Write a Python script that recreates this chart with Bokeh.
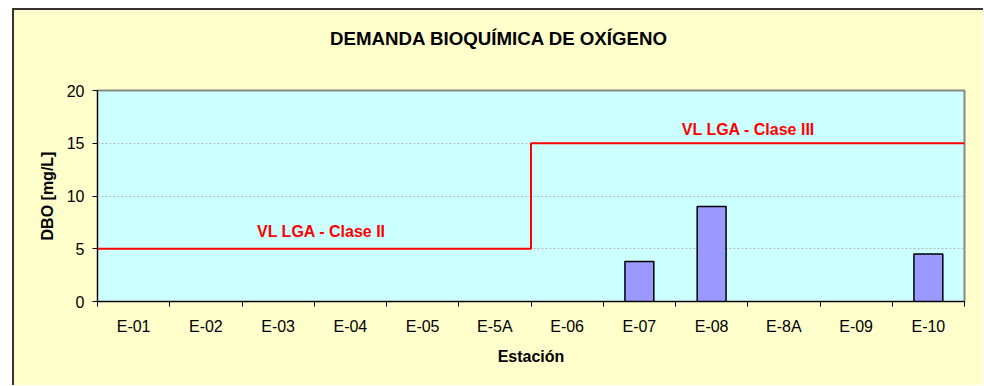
import numpy as np
from bokeh.plotting import figure
from bokeh.layouts import column
from bokeh.models import FixedTicker, Label, Range1d, ColumnDataSource, CustomJSTickFormatter, Div
from bokeh.embed import file_html
from bokeh.resources import INLINE

# ---- data ----
stations = ["E-01", "E-02", "E-03", "E-04", "E-05", "E-5A",
            "E-06", "E-07", "E-08", "E-8A", "E-09", "E-10"]
dbo = [np.nan, np.nan, np.nan, np.nan, np.nan, np.nan,
       np.nan, 3.8, 9.0, np.nan, np.nan, 4.5]
limits = [5, 5, 5, 5, 5, 5, 15, 15, 15, 15, 15, 15]
y_ticks = [0, 5, 10, 15, 20]
title_text = "DEMANDA BIOQUÍMICA DE OXÍGENO"
limit_labels = ["VL LGA - Clase II", "VL LGA - Clase III"]
x_label = "Estación"
y_label = "DBO [mg/L]"

FONT = "Liberation Sans"
BG = "#FFFFCC"

n = len(stations)
centers = np.arange(1, n + 1)
edges = np.arange(n + 1) + 0.5

title_div = Div(
    text=('<div style="display:block; width:969px; padding-top:18px; text-align:center; '
          'font-family:\'Liberation Sans\'; font-size:18.7px; font-weight:bold; color:black; '
          'line-height:21.5px;">' + title_text + '</div>'),
    width=969, height=50, margin=0)

p = figure(width=969, height=325, output_backend="svg", toolbar_location=None,
           x_range=Range1d(0.5, n + 0.5), y_range=Range1d(0, 20),
           min_border_left=83, min_border_right=19, min_border_top=30, min_border_bottom=84,
           background_fill_color="#CCFFFF", border_fill_color=BG,
           outline_line_color="#888888", outline_line_width=2)
p.margin = 0

# grid
p.xgrid.grid_line_color = None
p.ygrid.ticker = FixedTicker(ticks=y_ticks[1:-1])
p.ygrid.grid_line_color = "#b8b8b8"
p.ygrid.grid_line_dash = "2 2"
p.ygrid.grid_line_width = 1

# bars
src = ColumnDataSource(dict(x=centers, top=dbo))
p.vbar(x="x", top="top", width=0.4, source=src, fill_color="#9999FF",
       line_color="black", line_width=1.5)

# limit step line
p.step(x=edges, y=limits + [limits[-1]], mode="after", line_color="#FF0000", line_width=2)

# axes
xa = p.xaxis[0]
xa.ticker = FixedTicker(ticks=list(centers), minor_ticks=list(edges))
xa.formatter = CustomJSTickFormatter(args=dict(labels=stations),
                                     code="return labels[Math.round(tick) - 1] || ''")
xa.major_tick_line_color = None
xa.minor_tick_line_color = "black"
xa.minor_tick_out = 5
xa.minor_tick_in = 0
xa.axis_line_color = "black"
xa.major_label_text_font = FONT
xa.major_label_text_font_size = "16px"
xa.major_label_text_color = "black"
xa.major_label_standoff = 10
xa.axis_label = x_label
xa.axis_label_text_font = FONT
xa.axis_label_text_font_size = "16px"
xa.axis_label_text_font_style = "bold"
xa.axis_label_text_color = "black"
xa.axis_label_standoff = 10

ya = p.yaxis[0]
ya.ticker = FixedTicker(ticks=y_ticks)
ya.major_tick_out = 5
ya.major_tick_in = 0
ya.minor_tick_line_color = None
ya.axis_line_color = "black"
ya.major_label_text_font = FONT
ya.major_label_text_font_size = "16px"
ya.major_label_text_color = "black"
ya.major_label_standoff = 8
ya.axis_label = y_label
ya.axis_label_text_font = FONT
ya.axis_label_text_font_size = "16px"
ya.axis_label_text_font_style = "bold"
ya.axis_label_text_color = "black"
ya.axis_label_standoff = 8

# limit labels
for txt, lx, ly in [(limit_labels[0], 3.6, 6.6), (limit_labels[1], 9.51, 16.3)]:
    p.add_layout(Label(x=lx, y=ly, text=txt, text_color="#FF0000", text_font=FONT,
                       text_font_size="16px", text_font_style="bold",
                       text_align="center", text_baseline="middle"))

layout = column(title_div, p, spacing=0, margin=(8, 0, 0, 12),
                styles={"background-color": BG,
                        "border-left": "2px solid #333333",
                        "border-top": "2px solid #333333"})

open("out.html", "w").write(file_html(layout, INLINE))
